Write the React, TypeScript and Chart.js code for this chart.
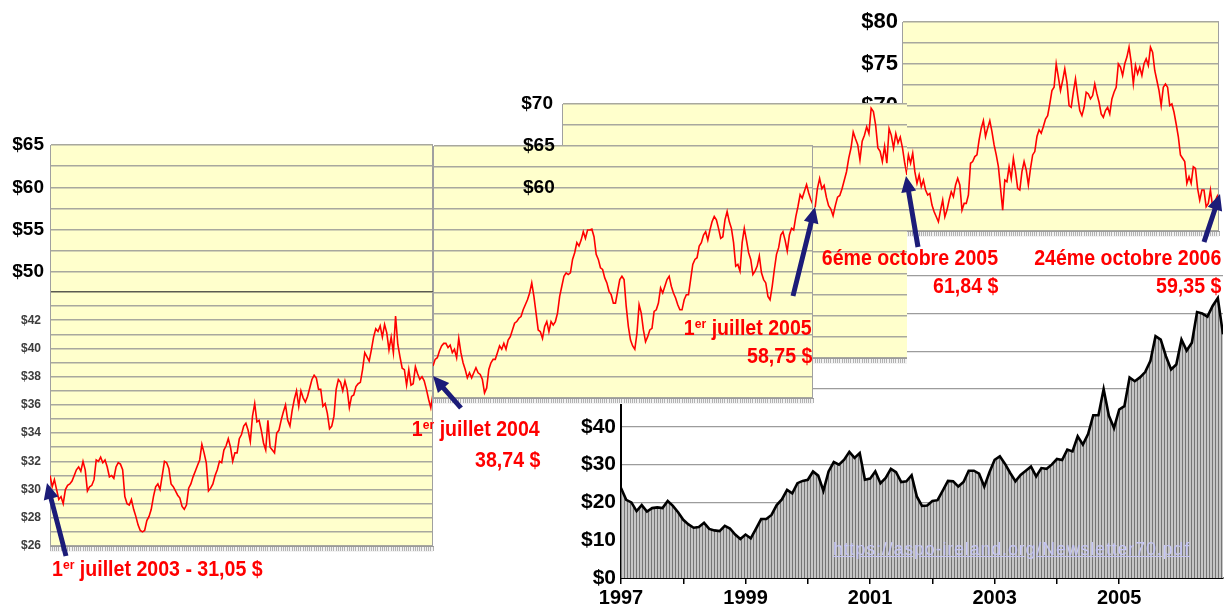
import React, { useEffect, useRef } from 'react';
import { Chart, registerables } from 'chart.js';

Chart.register(...registerables);

// ---------------- data ----------------
// Bottom chart: monthly oil price, Jan 1997 .. Sep 2006
const monthlyYearLabels = ['1997', '', '1999', '', '2001', '', '2003', '', '2005', ''];
const monthlyPrices = [
  23.8, 20.7, 20.0, 17.7, 19.3, 17.6, 18.5, 18.7, 18.5, 20.4, 19.1, 17.4,
  15.4, 14.2, 13.3, 13.5, 14.6, 13.0, 12.6, 12.4, 13.8, 13.1, 11.5, 10.3,
  11.5, 10.5, 13.0, 15.6, 15.6, 16.7, 19.3, 20.8, 23.3, 22.4, 25.1, 25.7,
  26.0, 28.2, 27.1, 23.1, 28.2, 30.7, 30.0, 31.3, 33.4, 31.8, 33.1, 26.0,
  26.3, 28.2, 25.1, 26.5, 28.9, 28.0, 25.4, 25.6, 27.2, 21.6, 19.1, 19.2,
  20.4, 20.6, 23.1, 25.7, 25.6, 24.2, 25.4, 28.4, 28.4, 27.6, 24.2, 28.0,
  31.3, 32.2, 30.2, 27.8, 25.6, 27.3, 28.4, 29.5, 26.9, 29.1, 28.9, 30.0,
  31.5, 31.2, 34.0, 33.5, 37.5, 35.3, 38.1, 43.1, 43.1, 50.0, 43.0, 39.7,
  44.6, 45.5, 53.1, 52.1, 53.1, 54.5, 57.4, 64.0, 63.1, 58.7, 55.2, 56.5,
  63.1, 60.2, 62.3, 70.4, 70.0, 69.2, 72.0, 74.1, 64.5,
];

// Panel 1: 1 July 2003 .. 1 July 2004 (daily)
const prices2003to2004 = [
  31.0, 30.2, 30.7, 30.0, 29.3, 29.5, 29.0, 30.0, 30.3, 30.4, 30.6, 31.0, 31.4, 31.6, 31.3, 32.0, 31.4, 29.9, 30.2, 30.3,
  30.7, 32.1, 32.0, 32.3, 31.9, 32.1, 31.6, 30.9, 31.0, 30.8, 31.6, 31.9, 31.8, 31.4, 29.5, 29.0, 28.9, 29.3, 28.6, 28.1,
  27.5, 27.1, 27.0, 27.1, 27.8, 28.1, 28.6, 29.5, 30.2, 30.4, 30.0, 31.0, 32.0, 31.9, 31.5, 30.4, 30.2, 29.9, 29.6, 29.4,
  28.8, 28.6, 28.9, 30.1, 30.4, 30.9, 31.3, 31.7, 32.1, 33.2, 32.6, 31.9, 29.9, 30.1, 30.4, 31.0, 31.4, 32.0, 31.9, 32.8,
  33.1, 33.6, 33.0, 32.0,
  32.6, 32.6, 33.6, 33.9, 34.5, 34.7, 34.2, 33.4, 35.2, 36.1, 34.8, 34.9, 34.2, 33.3, 32.8, 34.9, 33.0, 32.8, 32.6, 34.0,
  34.2, 34.9, 35.5, 36.0, 34.9, 34.5, 35.6, 36.4, 37.0, 35.9, 37.0, 36.5, 36.2, 36.6, 37.2, 37.8, 38.1, 37.9, 37.1, 37.1,
  35.9, 36.1, 35.4, 34.3, 34.5, 35.2, 37.1, 37.8, 37.6, 37.0, 37.7, 37.1, 35.8, 36.6, 36.7, 37.3, 37.5, 37.6, 38.5, 39.7,
  39.4, 39.1, 39.9, 40.8, 41.4, 41.2, 41.6, 40.8, 41.7, 41.1, 39.9, 40.8, 39.7, 42.3, 40.3, 39.4, 38.6, 38.5, 37.4, 38.5,
  37.4, 37.5, 38.7, 38.2, 37.8, 38.0, 37.7, 37.1, 36.4, 35.8, 36.8,
];

// Panel 2: 1 July 2004 .. 1 July 2005 (daily)
const prices2004to2005 = [
  38.8, 39.6, 39.8, 40.6, 41.2, 41.5, 41.5, 41.0, 41.3, 40.4, 40.8, 39.8, 42.1, 40.4, 39.2, 38.4, 37.4, 38.0, 37.4, 38.0,
  38.6, 38.0, 37.8, 37.2, 35.6, 36.2, 38.4, 39.2, 39.6, 39.6, 40.4, 41.2, 40.8, 41.5, 40.8, 41.9, 42.3, 43.1, 43.9, 44.1,
  44.5, 44.7, 45.5, 46.1, 46.7, 47.5, 48.7, 47.1, 45.1, 43.1, 42.9, 42.1, 43.5, 44.1, 42.9, 44.1, 43.7, 44.1, 45.1, 47.1,
  48.3, 49.5, 49.9, 49.7, 49.9, 51.5, 52.3, 53.5, 53.1, 53.8, 54.8, 54.0, 55.0, 55.0, 55.1, 54.2, 52.1, 51.5, 50.5, 50.3,
  49.3, 48.7, 47.7, 47.3, 46.3, 46.3, 47.7, 49.1, 49.5, 49.1, 45.9, 43.5, 41.9,
  41.2, 40.8, 42.7, 46.1, 45.1, 43.1, 41.7, 42.3, 43.1, 43.3, 45.3, 45.5, 46.3, 48.1, 47.5, 48.3, 49.1, 49.5, 48.3, 47.5,
  46.9, 46.1, 45.5, 45.5, 46.7, 47.3, 47.3, 49.1, 50.9, 51.5, 51.7, 53.1, 53.5, 54.4, 54.8, 53.8, 55.0, 56.0, 56.6, 56.2,
  55.2, 54.0, 54.2, 56.2, 57.2, 56.0, 55.2, 53.5, 50.7, 50.9, 50.1, 53.5, 55.2, 53.8, 52.3, 51.5, 49.7, 50.1, 50.7, 51.9,
  49.9, 49.1, 48.7, 47.1, 46.7, 48.3, 50.3, 52.1, 52.9, 54.4, 54.8, 53.8, 52.5, 54.4, 55.2, 55.0, 56.6, 57.8, 59.2, 58.8,
  59.6, 60.4, 59.4, 58.6, 58.0,
];

// Panel 3 (mostly hidden): visible part, July .. 6 October 2005
const prices2005summer = [
  57.8, 60.0, 61.2, 60.0, 60.4, 59.0, 58.0, 57.6, 56.8, 58.0, 59.0, 59.2, 60.0, 61.0, 62.0, 63.6, 64.8, 66.7, 65.9, 65.2,
  63.4, 65.6, 66.3, 67.3, 66.5, 69.5, 69.1, 67.5, 64.8, 64.4, 63.2, 65.0, 63.0, 67.1, 66.3, 64.8, 66.5, 65.4, 66.1, 64.8,
  63.0, 61.6,
];

// Panel 4: 6 October 2005 .. 24 October 2006
const prices2005to2006 = [
  62.1, 64.1, 63.1, 64.3, 62.1, 60.7, 61.7, 60.3, 61.1, 59.9, 59.3, 59.5, 58.1, 57.3, 56.7, 56.1, 57.5, 58.7, 56.7, 57.5,
  58.7, 59.7, 59.1, 60.5, 61.3, 60.5, 57.5, 58.3, 58.3, 59.3, 63.1, 63.3, 63.9, 64.1, 65.9, 67.3, 68.2, 66.3, 67.3, 68.2,
  66.9, 65.3, 64.1,
  62.7, 60.1, 57.5, 61.1, 60.9, 62.7, 61.3, 63.7, 62.1, 60.1, 59.9, 62.1, 63.3, 62.3, 60.5, 62.5, 64.1, 64.5, 66.3, 67.1,
  66.7, 67.5, 68.4, 68.8, 70.2, 71.8, 72.2, 75.0, 73.4, 71.8, 73.0, 74.4, 72.8, 70.0, 69.8, 71.6, 73.2, 71.2, 69.4, 68.8,
  69.8, 71.6, 71.4, 70.8, 71.2, 72.6, 71.4, 70.4, 69.0, 68.6, 69.4, 69.8, 69.0, 70.8, 71.6, 72.2, 75.0, 74.6, 73.6, 75.0,
  75.8, 77.0, 75.2, 72.6, 74.8, 73.8, 74.6, 73.6, 75.0, 75.6, 74.8, 77.0, 76.4, 74.2, 73.0, 71.8, 70.0, 72.2, 72.6, 72.2,
  70.0, 70.2, 69.2, 67.8, 66.3, 64.1, 63.7, 63.3, 60.7, 61.5, 60.7, 62.7, 62.5, 60.1, 58.7, 59.9, 59.9, 57.9, 58.3, 59.9,
  57.9, 58.3, 59.1, 59.5,
];

// ---------------- styling helpers ----------------
const NARROW = '"Liberation Sans Narrow", "Arial Narrow", "Liberation Sans", Arial, sans-serif';
const SANS = '"Liberation Sans", Arial, Helvetica, sans-serif';
const YELLOW = '#ffffcc';
const GRID = '#a8a89e';
const FRAME = '#a0a0a0';

const plotFrame = {
  id: 'plotFrame',
  beforeDraw(chart: any, _a: any, opts: any) {
    if (!opts || !opts.fill) return;
    const { ctx, chartArea: a } = chart;
    ctx.save();
    ctx.fillStyle = opts.fill;
    ctx.fillRect(a.left, a.top, a.right - a.left, a.bottom - a.top);
    ctx.fillStyle = '#f2f2f2';
    ctx.fillRect(a.left, a.bottom, a.right - a.left, 6);
    ctx.restore();
  },
  afterDraw(chart: any, _a: any, opts: any) {
    if (!opts || !opts.right) return;
    const { ctx, chartArea: a } = chart;
    ctx.save();
    ctx.strokeStyle = FRAME;
    ctx.lineWidth = 1;
    ctx.beginPath();
    ctx.moveTo(a.right - 0.5, a.top);
    ctx.lineTo(a.right - 0.5, a.bottom);
    ctx.stroke();
    ctx.restore();
  },
};

const isMult = (v: number, m: number) => Math.abs(v / m - Math.round(v / m)) < 1e-6;

function hatchX(min: number, max: number) {
  return {
    type: 'linear',
    min,
    max,
    ticks: { display: false, stepSize: 1 },
    grid: { drawOnChartArea: false, drawTicks: true, tickLength: 5, color: '#b2b2b2', lineWidth: 1 },
    border: { display: true, color: '#9a9a9a', width: 1 },
    afterFit: (s: any) => {
      s.height = 6;
      s.paddingLeft = 0;
      s.paddingRight = 0;
    },
  };
}

function priceY(o: any) {
  return {
    type: 'linear',
    min: o.min,
    max: o.max,
    ticks: {
      stepSize: o.step,
      autoSkip: false,
      callback: (v: any) => o.label(Number(v)),
      font: o.font,
      color: o.color,
      padding: o.padding,
      mirror: !!o.mirror,
    },
    grid: { color: o.gridColor || GRID, lineWidth: 1.5, drawTicks: false },
    border: { display: true, color: FRAME, width: 1 },
    afterFit: (s: any) => {
      s.width = o.width;
      s.paddingTop = 0;
      s.paddingBottom = 0;
    },
  };
}

function baseOptions(padding: any, frame: any, scales: any) {
  return {
    animation: false,
    responsive: false,
    maintainAspectRatio: false,
    events: [],
    layout: { padding },
    plugins: { legend: { display: false }, tooltip: { enabled: false }, plotFrame: frame },
    scales,
  };
}

function linePanel(values: number[], xMin: number, y: any, padding: any, rightFrame: boolean) {
  return {
    type: 'line',
    data: {
      datasets: [
        {
          data: values.map((v, i) => ({ x: i, y: v })),
          borderColor: '#ff0000',
          borderWidth: 1.6,
          pointRadius: 0,
          tension: 0,
          fill: false,
        },
      ],
    },
    options: baseOptions(padding, { fill: YELLOW, right: rightFrame }, { x: hatchX(xMin, values.length - 1), y }),
    plugins: [plotFrame],
  };
}

const bigSans = { family: SANS, size: 19, weight: 'bold' };

// ---------------- chart makers ----------------
const makeBottom = (canvas: HTMLCanvasElement) => {
  const ctx = canvas.getContext('2d') as CanvasRenderingContext2D;
  const pc = document.createElement('canvas');
  pc.width = 3;
  pc.height = 8;
  const g = pc.getContext('2d') as CanvasRenderingContext2D;
  g.fillStyle = '#c6c6c6';
  g.fillRect(0, 0, 3, 8);
  g.fillStyle = '#767676';
  g.fillRect(0, 0, 1, 8);
  const pattern = ctx.createPattern(pc, 'repeat');
  return {
    type: 'line',
    data: {
      datasets: [
        {
          data: monthlyPrices.map((v, i) => ({ x: i, y: v })),
          borderColor: '#000000',
          borderWidth: 2.6,
          backgroundColor: pattern,
          fill: 'origin',
          pointRadius: 0,
          tension: 0,
        },
      ],
    },
    options: baseOptions({ top: 20, left: 0, right: 5, bottom: 0 }, {}, {
      x: {
        type: 'linear',
        min: 0,
        max: monthlyPrices.length - 1,
        ticks: {
          stepSize: 12,
          autoSkip: false,
          maxRotation: 0,
          padding: 2,
          color: '#000',
          font: { family: NARROW, size: 20, weight: 'bold' },
          callback: (v: any) => {
            const n = Number(v);
            return isMult(n, 12) ? monthlyYearLabels[Math.round(n / 12)] || '' : '';
          },
        },
        grid: {
          drawOnChartArea: false,
          tickLength: 6,
          lineWidth: 1.5,
          color: (c: any) => (c.tick && isMult(c.tick.value, 12) ? '#000' : 'rgba(0,0,0,0)'),
        },
        border: { display: true, color: '#000', width: 2 },
        afterFit: (s: any) => {
          s.height = 29;
          s.paddingLeft = 0;
          s.paddingRight = 0;
        },
      },
      y: {
        type: 'linear',
        min: 0,
        max: 90,
        ticks: {
          stepSize: 10,
          padding: 5,
          color: '#000',
          font: { family: NARROW, size: 21, weight: 'bold' },
          callback: (v: any) => '$' + v,
        },
        grid: {
          drawTicks: false,
          lineWidth: 1.3,
          color: (c: any) => (c.tick && c.tick.value <= 80 ? '#9c9c9c' : 'rgba(0,0,0,0)'),
        },
        border: { display: true, color: '#000', width: 2 },
        afterFit: (s: any) => {
          s.width = 81;
          s.paddingTop = 0;
          s.paddingBottom = 0;
        },
      },
    }),
    plugins: [plotFrame],
  };
};

const makeD = () =>
  linePanel(
    prices2005to2006,
    -2,
    priceY({
      min: 55, max: 80, step: 2.5, width: 62, padding: 4, color: '#000',
      font: { family: NARROW, size: 22, weight: 'bold' },
      label: (v: number) => (isMult(v, 5) ? '$' + v : ''),
    }),
    { top: 22, left: 0, right: 9, bottom: 10 },
    true,
  );

const makeC = () =>
  linePanel(
    prices2005summer,
    -113,
    priceY({
      min: 40, max: 70, step: 2.5, width: 72, padding: 9, color: '#000', font: bigSans,
      label: (v: number) => (v === 70 ? '$70' : ''),
    }),
    { top: 20, left: 0, right: 0, bottom: 10 },
    false,
  );

const makeB = () =>
  linePanel(
    prices2004to2005,
    0,
    priceY({
      min: 35, max: 65, step: 2.5, width: 0, padding: 90, mirror: true, color: '#000', font: bigSans,
      label: (v: number) => (v === 65 || v === 60 ? '$' + v : ''),
    }),
    { top: 20, left: 0, right: 1, bottom: 12 },
    true,
  );

const makeAUpper = () => ({
  type: 'line',
  data: { datasets: [] },
  options: baseOptions({ top: 20, left: 0, right: 1, bottom: 20 }, { fill: YELLOW, right: true }, {
    x: { type: 'linear', min: 0, max: 1, display: false },
    y: priceY({
      min: 47.65, max: 65, step: 2.5, width: 50, padding: 6, color: '#000', font: bigSans,
      label: (v: number) => (isMult(v, 5) ? '$' + v : ''),
    }),
  }),
  plugins: [plotFrame],
});

const makeALower = () =>
  linePanel(
    prices2003to2004,
    0,
    priceY({
      min: 26, max: 44, step: 1, width: 50, padding: 9, color: '#3c3c3c',
      font: { family: SANS, size: 12, weight: 'bold' },
      label: (v: number) => (isMult(v, 2) && v < 44 ? '$' + v : ''),
      gridColor: (c: any) => (c.tick && c.tick.value === 44 ? '#5a5a50' : GRID),
    }),
    { top: 20, left: 0, right: 1, bottom: 10 },
    true,
  );

// ---------------- components ----------------
function ChartBox(props: { x: number; y: number; w: number; h: number; z: number; make: (c: HTMLCanvasElement) => any }) {
  const ref = useRef<HTMLCanvasElement | null>(null);
  const { make } = props;
  useEffect(() => {
    if (!ref.current) return;
    const chart = new Chart(ref.current, make(ref.current));
    return () => chart.destroy();
  }, [make]);
  return (
    <canvas
      ref={ref}
      width={props.w}
      height={props.h}
      style={{ position: 'absolute', left: props.x, top: props.y, width: props.w, height: props.h, zIndex: props.z }}
    />
  );
}

function arrowPoints(x1: number, y1: number, x2: number, y2: number, shaft = 5, headW = 15, headL = 16) {
  const dx = x2 - x1;
  const dy = y2 - y1;
  const len = Math.hypot(dx, dy);
  const ux = dx / len;
  const uy = dy / len;
  const px = -uy;
  const py = ux;
  const bx = x2 - ux * headL;
  const by = y2 - uy * headL;
  const pts = [
    [x1 + (px * shaft) / 2, y1 + (py * shaft) / 2],
    [bx + (px * shaft) / 2, by + (py * shaft) / 2],
    [bx + (px * headW) / 2, by + (py * headW) / 2],
    [x2, y2],
    [bx - (px * headW) / 2, by - (py * headW) / 2],
    [bx - (px * shaft) / 2, by - (py * shaft) / 2],
    [x1 - (px * shaft) / 2, y1 - (py * shaft) / 2],
  ];
  return pts.map((p) => p[0].toFixed(1) + ',' + p[1].toFixed(1)).join(' ');
}

const ARROWS = [
  [66, 556, 47, 483],
  [461, 408, 433, 376],
  [793, 296, 815, 207],
  [918, 247, 906, 176],
  [1204, 242, 1220, 194],
];

const redText: React.CSSProperties = {
  position: 'absolute',
  color: '#ff0000',
  fontFamily: NARROW,
  fontWeight: 700,
  fontSize: 22,
  lineHeight: 1,
  whiteSpace: 'nowrap',
  zIndex: 9,
  transform: 'scaleX(0.89)',
};
const leftText: React.CSSProperties = { ...redText, transformOrigin: 'left center' };
const rightText: React.CSSProperties = { ...redText, transformOrigin: 'right center' };

function Er() {
  return <span style={{ fontSize: '0.62em', position: 'relative', top: '-0.5em' }}>er</span>;
}

export default function App() {
  return (
    <div
      style={{
        position: 'fixed',
        left: 0,
        top: 0,
        width: 1228,
        height: 607,
        background: '#ffffff',
        overflow: 'hidden',
      }}
    >
      <ChartBox x={540} y={218} w={688} h={389} z={1} make={makeBottom} />
      <ChartBox x={840} y={0} w={388} h={247} z={2} make={makeD} />
      <ChartBox x={490} y={84} w={417} h={290} z={3} make={makeC} />
      <ChartBox x={433} y={126} w={381} h={290} z={4} make={makeB} />
      <ChartBox x={0} y={125} w={434} h={187} z={5} make={makeAUpper} />
      <ChartBox x={0} y={272} w={434} h={290} z={6} make={makeALower} />

      <svg
        width={1228}
        height={607}
        style={{ position: 'absolute', left: 0, top: 0, zIndex: 8, pointerEvents: 'none' }}
      >
        {ARROWS.map((a, i) => (
          <polygon key={i} points={arrowPoints(a[0], a[1], a[2], a[3])} fill="#1c1c78" />
        ))}
      </svg>

      <div style={{ ...leftText, left: 52, top: 558 }}>
        1<Er /> juillet 2003 - 31,05 $
      </div>
      <div style={{ ...rightText, right: 688, top: 418 }}>
        1<Er /> juillet 2004
      </div>
      <div style={{ ...rightText, right: 688, top: 449 }}>38,74 $</div>
      <div style={{ ...rightText, right: 416, top: 317 }}>
        1<Er /> juillet 2005
      </div>
      <div style={{ ...rightText, right: 416, top: 345 }}>58,75 $</div>
      <div style={{ ...rightText, right: 230, top: 247 }}>6éme octobre 2005</div>
      <div style={{ ...rightText, right: 230, top: 275 }}>61,84 $</div>
      <div style={{ ...rightText, right: 7, top: 247 }}>24éme octobre 2006</div>
      <div style={{ ...rightText, right: 7, top: 275 }}>59,35 $</div>
      <div
        style={{
          position: 'absolute',
          left: 833,
          top: 540,
          fontFamily: SANS,
          fontSize: 18,
          letterSpacing: 0.8,
          lineHeight: 1,
          color: '#c4c4f2',
          textDecoration: 'underline',
          whiteSpace: 'nowrap',
          zIndex: 9,
        }}
      >
        https://aspo-ireland.org/Newsletter70.pdf
      </div>
    </div>
  );
}
